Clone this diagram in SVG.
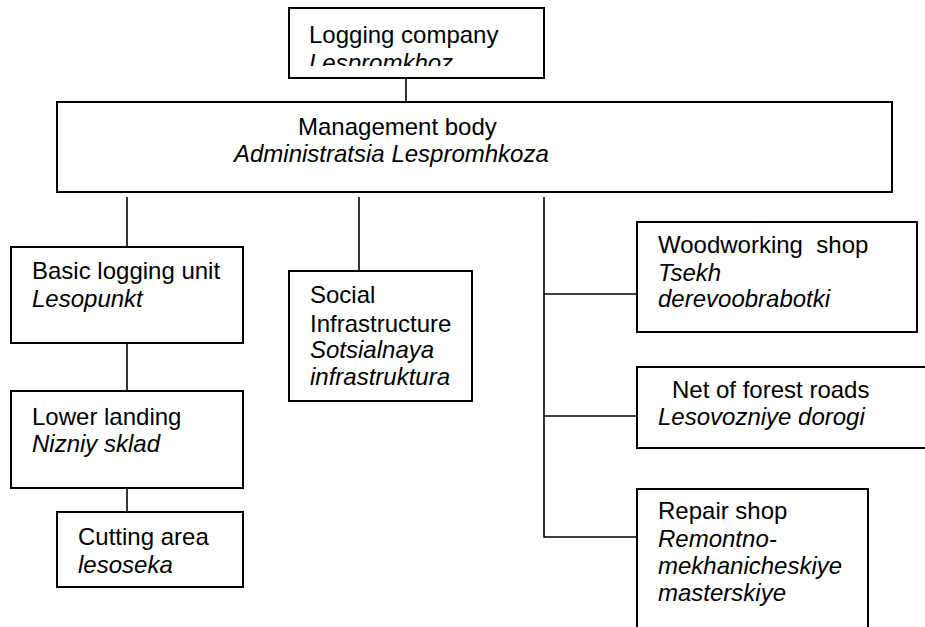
<svg xmlns="http://www.w3.org/2000/svg" width="925" height="627" viewBox="0 0 925 627">
  <style>
    .box { fill: #ffffff; stroke: #000000; stroke-width: 2; }
    .link { fill: none; stroke: #000000; stroke-width: 1.6; }
    text { font-family: "Liberation Sans", Arial, sans-serif; font-size: 24px; fill: #000000; }
    .it { font-style: italic; }
  </style>
  <defs>
    <clipPath id="clip-top">
      <rect x="290" y="9" width="253" height="57"/>
    </clipPath>
  </defs>
  <rect width="925" height="627" fill="#ffffff"/>

  <g id="connectors">
    <line class="link" x1="406" y1="78" x2="406" y2="102"/>
    <line class="link" x1="127" y1="197" x2="127" y2="247"/>
    <line class="link" x1="127" y1="343" x2="127" y2="391"/>
    <line class="link" x1="127" y1="488" x2="127" y2="512"/>
    <line class="link" x1="359" y1="197" x2="359" y2="271"/>
    <polyline class="link" points="544,197 544,537 637,537"/>
    <line class="link" x1="544" y1="294" x2="637" y2="294"/>
    <line class="link" x1="544" y1="416" x2="637" y2="416"/>
  </g>

  <g id="logging-company">
    <rect class="box" x="289" y="8" width="255" height="70"/>
    <g clip-path="url(#clip-top)">
      <text x="309" y="43">Logging company</text>
      <text class="it" x="309" y="71">Lespromkhoz</text>
    </g>
  </g>

  <g id="management-body">
    <rect class="box" x="57" y="102" width="835" height="90"/>
    <text x="298" y="135">Management body</text>
    <text class="it" x="234" y="162">Administratsia Lespromhkoza</text>
  </g>

  <g id="basic-logging-unit">
    <rect class="box" x="11" y="247" width="232" height="96"/>
    <text x="32" y="279">Basic logging unit</text>
    <text class="it" x="32" y="307">Lesopunkt</text>
  </g>

  <g id="lower-landing">
    <rect class="box" x="11" y="391" width="232" height="97"/>
    <text x="32" y="425">Lower landing</text>
    <text class="it" x="32" y="452">Nizniy sklad</text>
  </g>

  <g id="cutting-area">
    <rect class="box" x="57" y="512" width="186" height="75"/>
    <text x="78" y="545">Cutting area</text>
    <text class="it" x="78" y="573">lesoseka</text>
  </g>

  <g id="social-infrastructure">
    <rect class="box" x="289" y="271" width="183" height="130"/>
    <text x="310" y="303">Social</text>
    <text x="310" y="332">Infrastructure</text>
    <text class="it" x="310" y="358">Sotsialnaya</text>
    <text class="it" x="310" y="385">infrastruktura</text>
  </g>

  <g id="woodworking-shop">
    <rect class="box" x="637" y="222" width="280" height="110"/>
    <text x="658" y="253" xml:space="preserve">Woodworking  shop</text>
    <text class="it" x="658" y="281">Tsekh</text>
    <text class="it" x="658" y="307">derevoobrabotki</text>
  </g>

  <g id="forest-roads">
    <rect class="box" x="637" y="367" width="300" height="81"/>
    <text x="672" y="398">Net of forest roads</text>
    <text class="it" x="658" y="425">Lesovozniye dorogi</text>
  </g>

  <g id="repair-shop">
    <rect class="box" x="637" y="489" width="231" height="150"/>
    <text x="658" y="519">Repair shop</text>
    <text class="it" x="658" y="547">Remontno-</text>
    <text class="it" x="658" y="574">mekhanicheskiye</text>
    <text class="it" x="658" y="601">masterskiye</text>
  </g>
</svg>
